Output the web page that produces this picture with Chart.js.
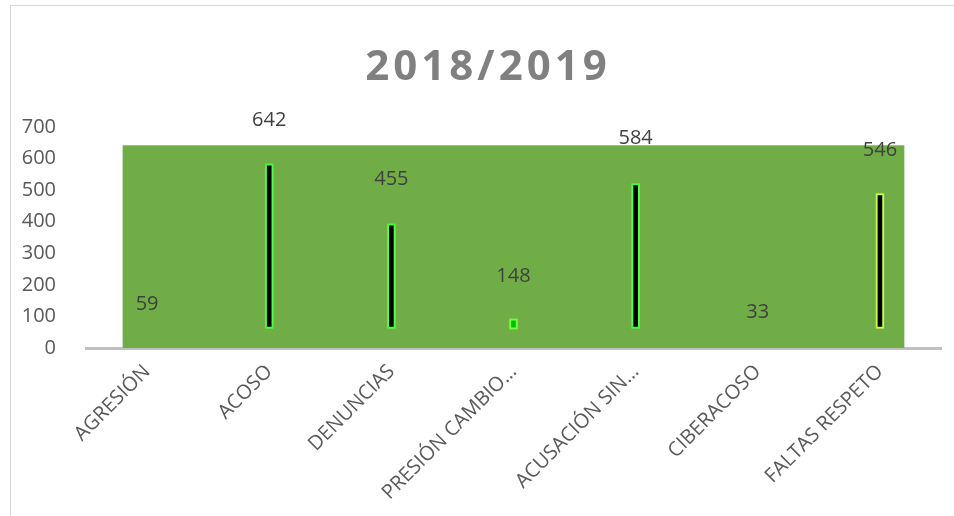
<!DOCTYPE html>
<html>
<head>
<meta charset="utf-8">
<script src="https://cdn.jsdelivr.net/npm/chart.js@4/dist/chart.umd.min.js"></script>
<style>
  body { margin: 0; background: #fff; }
  #wrap { position: relative; width: 954px; height: 516px; overflow: hidden; }
  #frame { position: absolute; left: 10px; top: 5px; width: 960px; height: 530px; border: 1px solid #d9d9d9; }
  canvas { position: absolute; left: 0; top: 0; }
</style>
</head>
<body>
<div id="wrap">
  <div id="frame"></div>
  <canvas id="chart" width="954" height="516"></canvas>
</div>
<script>
// categories and values
const categories = ['AGRESIÓN', 'ACOSO', 'DENUNCIAS', 'PRESIÓN CAMBIO…', 'ACUSACIÓN SIN…', 'CIBERACOSO', 'FALTAS RESPETO'];
const values = [59, 642, 455, 148, 584, 33, 546];

// the thin glowing strokes inside the green area
const strokeLow = [null, 62, 62, 60, 62, null, 62];
const strokeHigh = [null, 583, 393, 92, 521, null, 489];
const strokeFill = ['#000', '#000', '#000', '#00c000', '#000', '#000', '#000'];
const strokeEdge = ['#33ff33', '#33ff33', '#33ff33', '#66ff33', '#33ff33', '#33ff33', '#c8ff3c'];

const yTicks = [0, 100, 200, 300, 400, 500, 600, 700];
const title = '2018/2019';

const strokes = strokeLow.map((lo, i) => (lo === null ? null : [lo, strokeHigh[i]]));

const greenArea = {
  id: 'greenArea',
  beforeDatasetsDraw(chart) {
    const { ctx, scales: { x, y } } = chart;
    const step = x.getPixelForValue(1) - x.getPixelForValue(0);
    const left = x.getPixelForValue(0) - step * 0.2;
    const right = x.getPixelForValue(categories.length - 1) + step * 0.2;
    const top = y.getPixelForValue(Math.max(...values));
    const bottom = y.getPixelForValue(0);
    ctx.save();
    ctx.fillStyle = '#70ad47';
    ctx.fillRect(left, top, right - left, bottom - top);
    ctx.restore();
  },
  beforeDatasetDraw(chart, args) {
    if (args.index === 1) {
      chart.ctx.save();
      chart.ctx.shadowColor = 'rgba(190,255,140,0.7)';
      chart.ctx.shadowBlur = 8;
    }
  },
  afterDatasetDraw(chart, args) {
    if (args.index === 1) chart.ctx.restore();
  },
  afterDatasetsDraw(chart) {
    const { ctx, scales: { x, y } } = chart;
    ctx.save();
    ctx.font = '20px "Open Sans"';
    ctx.fillStyle = '#404040';
    ctx.textAlign = 'center';
    ctx.textBaseline = 'middle';
    values.forEach((v, i) => {
      ctx.fillText(String(v), x.getPixelForValue(i), y.getPixelForValue(v) - 25);
    });
    // title
    ctx.font = 'bold 42px "Open Sans"';
    ctx.fillStyle = '#808080';
    ctx.letterSpacing = '4px';
    ctx.fillText(title, 488, 68);
    ctx.restore();
  }
};

new Chart(document.getElementById('chart'), {
  type: 'bar',
  data: {
    labels: categories,
    datasets: [
      {
        label: '2018/2019',
        data: values,
        backgroundColor: 'rgba(0,0,0,0)',
        grouped: false
      },
      {
        label: 'trazo',
        data: strokes,
        backgroundColor: strokeFill,
        borderColor: strokeEdge,
        borderWidth: 2,
        borderSkipped: false,
        barThickness: 8,
        grouped: false
      }
    ]
  },
  options: {
    responsive: false,
    animation: false,
    layout: { padding: { left: 10, right: 13, top: 127, bottom: 0 } },
    plugins: {
      legend: { display: false },
      tooltip: { enabled: false },
      title: { display: false }
    },
    scales: {
      x: {
        grid: { display: true, drawOnChartArea: false, drawTicks: false, color: 'rgba(0,0,0,0)' },
        border: { display: true, color: '#c0c0c0', width: 3 },
        ticks: {
          color: '#595959',
          font: { family: 'Open Sans', size: 20 },
          minRotation: 45,
          maxRotation: 45,
          autoSkip: false,
          padding: 12
        },
        afterFit(scale) { scale.height = 168; }
      },
      y: {
        min: 0,
        max: 700,
        grid: { display: false },
        border: { display: false },
        afterBuildTicks(scale) { scale.ticks = yTicks.map(v => ({ value: v })); },
        ticks: {
          color: '#595959',
          font: { family: 'Open Sans', size: 20 },
          padding: 22
        },
        afterFit(scale) { scale.width = 76; }
      }
    }
  },
  plugins: [greenArea]
});
</script>
</body>
</html>
